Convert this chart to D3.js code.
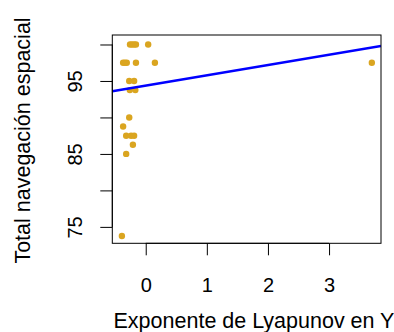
<!DOCTYPE html>
<html>
<head>
<meta charset="utf-8">
<script src="https://cdn.jsdelivr.net/npm/d3@7"></script>
<style>
  html, body { margin: 0; padding: 0; background: #ffffff; }
  svg { display: block; }
  text { font-family: "Liberation Sans", Arial, sans-serif; fill: #000; }
</style>
</head>
<body>
<div id="chart"></div>
<script>
// Lyapunov exponent (Y) vs. total spatial navigation score
const lyapunovY = [
  -0.257, -0.224, -0.19, -0.16, 0.04,
  -0.37, -0.34, -0.31, -0.16, 0.15,
  -0.27, -0.19,
  -0.26, -0.17,
  -0.27,
  -0.37,
  -0.32, -0.24, -0.19,
  -0.21,
  -0.32,
  -0.39,
  3.70
];
const navegacionTotal = [
  100, 100, 100, 100, 100,
  97.5, 97.5, 97.5, 97.5, 97.5,
  95, 95,
  93.75, 93.75,
  90,
  88.75,
  87.5, 87.5, 87.5,
  86.25,
  85,
  73.75,
  97.5
];

// Least-squares fit line
const fitIntercept = 94.37;
const fitSlope = 1.41;

const xTicks = [0, 1, 2, 3];
const xTickLabels = ["0", "1", "2", "3"];
const yTicks = [75, 80, 85, 90, 95, 100];
const yTickLabels = ["75", "", "85", "", "95", ""];

const xTitle = "Exponente de Lyapunov en Y";
const yTitle = "Total navegación espacial";

const W = 394, H = 332;
const plot = { left: 112.3, right: 381, top: 35, bottom: 243.3 };

const svg = d3.select("#chart").append("svg")
  .attr("width", W).attr("height", H);

const x = d3.scaleLinear().domain([-0.547, 3.85]).range([plot.left, plot.right]);
const y = d3.scaleLinear().domain([72.75, 101.3]).range([plot.bottom, plot.top]);

// clip region for the fitted line
svg.append("clipPath").attr("id", "plotClip")
  .append("rect")
  .attr("x", plot.left).attr("y", plot.top)
  .attr("width", plot.right - plot.left).attr("height", plot.bottom - plot.top);

// points
svg.append("g").selectAll("circle")
  .data(lyapunovY.map((d, i) => [d, navegacionTotal[i]]))
  .join("circle")
  .attr("cx", d => x(d[0]))
  .attr("cy", d => y(d[1]))
  .attr("r", 3.2)
  .attr("fill", "#DAA520");

// regression line
const xd = x.domain();
svg.append("line")
  .attr("clip-path", "url(#plotClip)")
  .attr("x1", x(xd[0])).attr("y1", y(fitIntercept + fitSlope * xd[0]))
  .attr("x2", x(xd[1])).attr("y2", y(fitIntercept + fitSlope * xd[1]))
  .attr("stroke", "#0000FF")
  .attr("stroke-width", 2.5);

// box
svg.append("rect")
  .attr("x", plot.left).attr("y", plot.top)
  .attr("width", plot.right - plot.left).attr("height", plot.bottom - plot.top)
  .attr("fill", "none").attr("stroke", "#000").attr("stroke-width", 1);

// x axis
const xAxis = d3.axisBottom(x)
  .tickValues(xTicks)
  .tickFormat((d, i) => xTickLabels[i])
  .tickSizeInner(12).tickSizeOuter(0);
const gx = svg.append("g")
  .attr("transform", `translate(0,${plot.bottom})`)
  .call(xAxis);
gx.select(".domain").attr("d", `M${x(xTicks[0])},0H${x(xTicks[xTicks.length - 1])}`);
gx.selectAll(".tick text")
  .attr("font-size", 20)
  .attr("font-family", "Liberation Sans, Arial, sans-serif")
  .attr("y", 48.5).attr("dy", null);

// y axis
const yAxis = d3.axisLeft(y)
  .tickValues(yTicks)
  .tickFormat((d, i) => yTickLabels[i])
  .tickSizeInner(12).tickSizeOuter(0);
const gy = svg.append("g")
  .attr("transform", `translate(${plot.left},0)`)
  .call(yAxis);
gy.select(".domain").attr("d", `M0,${y(yTicks[0])}V${y(yTicks[yTicks.length - 1])}`);
gy.selectAll(".tick text")
  .attr("font-size", 20)
  .attr("font-family", "Liberation Sans, Arial, sans-serif")
  .attr("x", null).attr("dy", null)
  .attr("text-anchor", "middle")
  .attr("transform", "translate(-30,0) rotate(-90)")
  .attr("y", 0);

// axis titles
svg.append("text")
  .attr("x", 254).attr("y", 328)
  .attr("text-anchor", "middle")
  .attr("font-size", 21.5)
  .text(xTitle);

svg.append("text")
  .attr("transform", `translate(30,${140.5}) rotate(-90)`)
  .attr("text-anchor", "middle")
  .attr("font-size", 21.5)
  .text(yTitle);
</script>
</body>
</html>
